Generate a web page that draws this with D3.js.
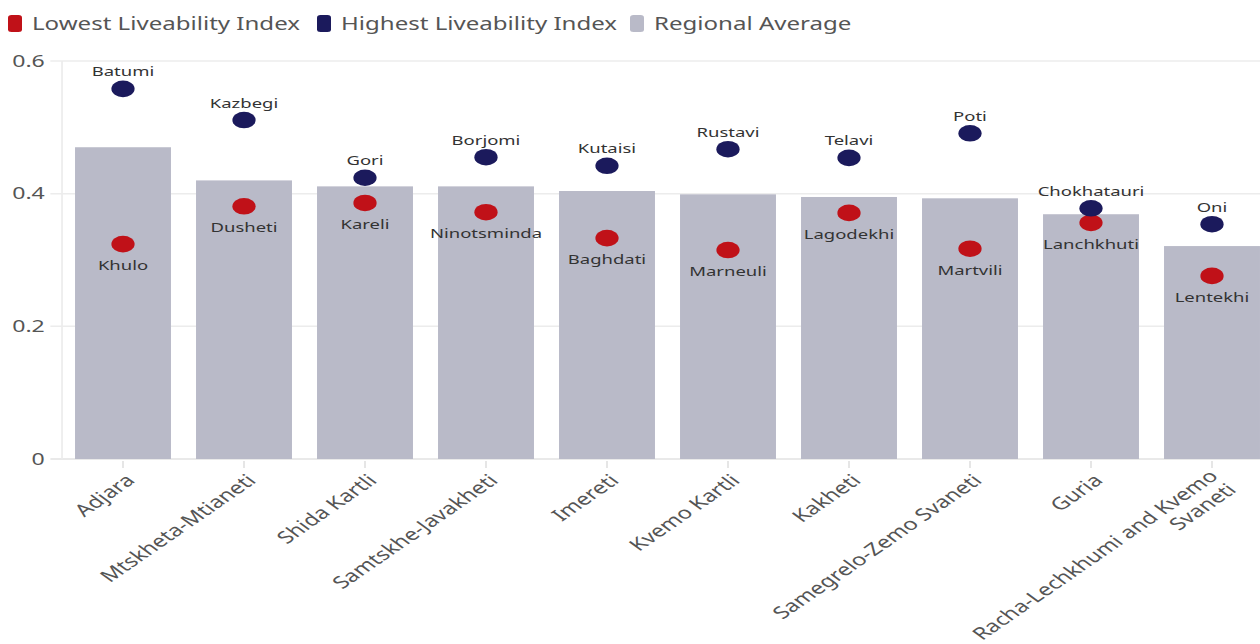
<!DOCTYPE html>
<html>
<head>
<meta charset="utf-8">
<script src="https://cdn.jsdelivr.net/npm/d3@7"></script>
<style>
  html, body { margin: 0; padding: 0; background: #fff; }
  svg { display: block; font-family: "Noto Sans", "Open Sans", sans-serif; }
</style>
</head>
<body>
<svg id="chart" width="1260" height="644"></svg>
<script>
// Regions of Georgia, ordered by regional average
const regions = ["Adjara", "Mtskheta-Mtianeti", "Shida Kartli", "Samtskhe-Javakheti", "Imereti",
  "Kvemo Kartli", "Kakheti", "Samegrelo-Zemo Svaneti", "Guria", "Racha-Lechkhumi and Kvemo Svaneti"];
const regionalAverage = [0.470, 0.420, 0.411, 0.411, 0.404, 0.399, 0.395, 0.393, 0.369, 0.321];
const highestCity = ["Batumi", "Kazbegi", "Gori", "Borjomi", "Kutaisi", "Rustavi", "Telavi", "Poti", "Chokhatauri", "Oni"];
const highestIndex = [0.558, 0.511, 0.424, 0.455, 0.442, 0.467, 0.454, 0.491, 0.378, 0.354];
const lowestCity = ["Khulo", "Dusheti", "Kareli", "Ninotsminda", "Baghdati", "Marneuli", "Lagodekhi", "Martvili", "Lanchkhuti", "Lentekhi"];
const lowestIndex = [0.324, 0.381, 0.386, 0.372, 0.333, 0.315, 0.371, 0.317, 0.356, 0.276];
const yTicks = [0, 0.2, 0.4, 0.6];
const legendLabels = ["Lowest Liveability Index", "Highest Liveability Index", "Regional Average"];

const colors = { low: "#c01118", high: "#1b1a5c", avg: "#b9bac8" };

// The chart is laid out in a narrower space and widened horizontally.
const stretch = 1.4;
const W = 1260 / stretch;

const svg = d3.select("#chart");
const g = svg.append("g").attr("transform", `scale(${stretch},1)`);

const x = d3.scaleBand()
  .domain(regions)
  .range([62.5 / stretch, 1272.5 / stretch])
  .paddingInner(0.207)
  .paddingOuter(0.1035);
const cx = d => x(d) + x.bandwidth() / 2;

const y = d3.scaleLinear().domain([0, 0.6]).range([459, 61]);

// Gridlines
g.append("g")
  .selectAll("line")
  .data(yTicks)
  .join("line")
  .attr("x1", 36).attr("x2", W)
  .attr("y1", d => y(d)).attr("y2", d => y(d))
  .attr("stroke", d => d === 0 ? "#e2e2e2" : "#ececec")
  .attr("stroke-width", 1.5);

// Vertical axis line
g.append("line")
  .attr("x1", 44.3).attr("x2", 44.3)
  .attr("y1", y(0.6)).attr("y2", y(0))
  .attr("stroke", "#ececec").attr("stroke-width", 1.2);

// Y tick labels
g.append("g")
  .selectAll("text")
  .data(yTicks)
  .join("text")
  .attr("x", 32)
  .attr("y", d => y(d))
  .attr("dy", "0.35em")
  .attr("text-anchor", "end")
  .attr("fill", "#555")
  .attr("font-size", 16.5)
  .text(d => d === 0 ? "0" : d3.format(".1f")(d));

// Bars
g.append("g")
  .selectAll("rect")
  .data(regions)
  .join("rect")
  .attr("x", d => x(d))
  .attr("width", x.bandwidth())
  .attr("y", (d, i) => y(regionalAverage[i]))
  .attr("height", (d, i) => y(0) - y(regionalAverage[i]))
  .attr("fill", colors.avg);

// X ticks
g.append("g")
  .selectAll("line")
  .data(regions)
  .join("line")
  .attr("x1", cx).attr("x2", cx)
  .attr("y1", 461).attr("y2", 468)
  .attr("stroke", "#e2e2e2").attr("stroke-width", 1.2);

// X labels, rotated
const xl = g.append("g")
  .selectAll("text")
  .data(regions)
  .join("text")
  .attr("transform", d => `translate(${cx(d) + 4 / stretch},${475}) rotate(-44)`)
  .attr("text-anchor", "end")
  .attr("fill", "#555")
  .attr("font-size", 17);
xl.each(function(d) {
  const t = d3.select(this);
  if (d === "Racha-Lechkhumi and Kvemo Svaneti") {
    t.append("tspan").attr("x", 0).attr("dy", "0.2em").text("Racha-Lechkhumi and Kvemo");
    t.append("tspan").attr("x", 0).attr("dy", "1.1em").text("Svaneti");
  } else {
    t.attr("dy", "0.55em").text(d);
  }
});

// Lowest index points and labels
g.append("g")
  .selectAll("circle")
  .data(regions)
  .join("circle")
  .attr("cx", cx)
  .attr("cy", (d, i) => y(lowestIndex[i]))
  .attr("r", 8.3)
  .attr("fill", colors.low);
g.append("g")
  .selectAll("text")
  .data(regions)
  .join("text")
  .attr("x", cx)
  .attr("y", (d, i) => y(lowestIndex[i]) + 26)
  .attr("text-anchor", "middle")
  .attr("fill", "#333")
  .attr("font-size", 13.2)
  .text((d, i) => lowestCity[i]);

// Highest index points and labels
g.append("g")
  .selectAll("circle")
  .data(regions)
  .join("circle")
  .attr("cx", cx)
  .attr("cy", (d, i) => y(highestIndex[i]))
  .attr("r", 8.3)
  .attr("fill", colors.high);
g.append("g")
  .selectAll("text")
  .data(regions)
  .join("text")
  .attr("x", cx)
  .attr("y", (d, i) => y(highestIndex[i]) - 12.5)
  .attr("text-anchor", "middle")
  .attr("fill", "#333")
  .attr("font-size", 13.2)
  .text((d, i) => highestCity[i]);

// Legend
const legendColors = [colors.low, colors.high, colors.avg];
const legendX = [8, 317, 630].map(v => v / stretch);
const lg = g.append("g")
  .selectAll("g")
  .data(legendLabels)
  .join("g")
  .attr("transform", (d, i) => `translate(${legendX[i]},0)`);
lg.append("rect")
  .attr("x", 0).attr("y", 15)
  .attr("width", 10).attr("height", 17)
  .attr("rx", 2.5)
  .attr("fill", (d, i) => legendColors[i]);
lg.append("text")
  .attr("x", 24 / stretch).attr("y", 30)
  .attr("fill", "#555")
  .attr("font-size", 17.2)
  .text(d => d);
</script>
</body>
</html>
